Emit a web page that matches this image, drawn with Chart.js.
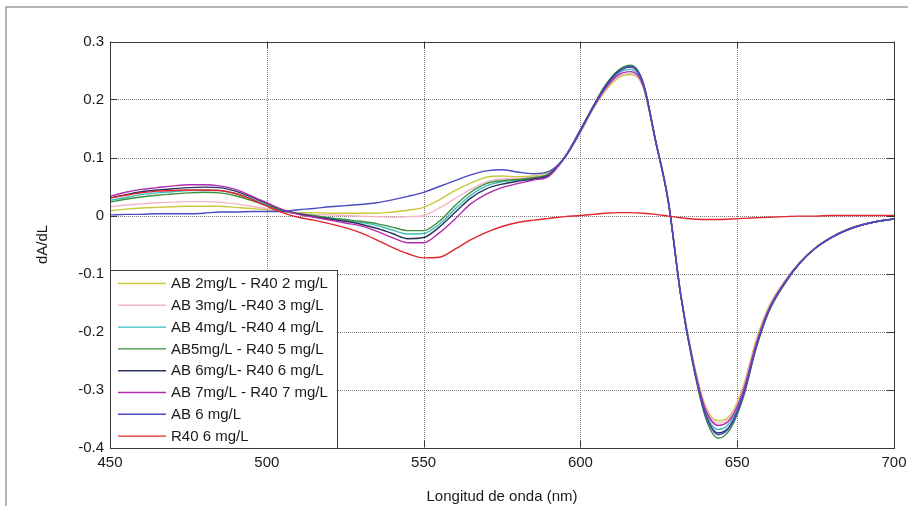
<!DOCTYPE html>
<html>
<head>
<meta charset="utf-8">
<script src="https://cdn.jsdelivr.net/npm/chart.js@4"></script>
<style>
  html, body { margin: 0; padding: 0; background: #ffffff; }
  #wrap { width: 915px; height: 506px; position: relative; }
</style>
</head>
<body>
<div id="wrap"><canvas id="c" width="915" height="506"></canvas></div>
<script>
// ---- data ----
const wavelengths = [450,455,460,465,470,475,480,485,490,495,500,505,510,515,520,525,530,535,540,545,550,555,560,565,570,575,580,585,590,595,600,
  604,608,612,616,620,624,628,632,636,640,644,648,652,656,660,665,670,675,680,685,690,695,700];

const seriesLabels = [
  'AB 2mg/L - R40 2 mg/L',
  'AB 3mg/L -R40 3 mg/L',
  'AB 4mg/L -R40 4 mg/L',
  'AB5mg/L - R40 5 mg/L',
  'AB 6mg/L- R40 6 mg/L',
  'AB 7mg/L - R40 7 mg/L',
  'AB 6 mg/L',
  'R40 6 mg/L'
];
const seriesColors = ['#c9c93a','#f2b6c8','#3cbcbc','#3d8f3d','#29345e','#b02cb0','#4a4ac4','#e0262e'];

const ab2 = [0.008,0.011,0.013,0.014,0.015,0.016,0.016,0.016,0.014,0.012,0.010,0.007,0.005,0.005,0.004,0.004,0.004,0.004,0.006,0.009,0.014,0.027,0.043,0.056,0.066,0.068,0.067,0.068,0.075,0.100,0.143,
  0.183,0.215,0.237,0.243,0.221,0.127,0.028,-0.134,-0.250,-0.330,-0.354,-0.343,-0.293,-0.215,-0.158,-0.114,-0.080,-0.055,-0.037,-0.024,-0.015,-0.010,-0.006];
const ab3 = [0.015,0.018,0.020,0.022,0.023,0.024,0.024,0.023,0.020,0.016,0.012,0.007,0.004,0.002,0.001,0.000,-0.001,-0.002,-0.003,-0.002,0.000,0.013,0.029,0.045,0.058,0.063,0.064,0.066,0.073,0.099,0.143,
  0.184,0.217,0.239,0.245,0.222,0.127,0.027,-0.135,-0.252,-0.333,-0.358,-0.346,-0.297,-0.219,-0.160,-0.115,-0.080,-0.055,-0.037,-0.024,-0.015,-0.010,-0.006];
const ab4 = [0.026,0.031,0.036,0.039,0.041,0.043,0.044,0.043,0.038,0.029,0.019,0.009,0.003,-0.001,-0.004,-0.008,-0.012,-0.017,-0.025,-0.032,-0.031,-0.015,0.011,0.035,0.051,0.058,0.061,0.064,0.071,0.100,0.147,
  0.186,0.221,0.245,0.252,0.226,0.127,0.025,-0.137,-0.256,-0.341,-0.369,-0.355,-0.305,-0.225,-0.163,-0.117,-0.081,-0.056,-0.038,-0.025,-0.016,-0.010,-0.006];
const ab5 = [0.023,0.028,0.032,0.035,0.037,0.039,0.040,0.039,0.034,0.026,0.017,0.008,0.003,0.000,-0.004,-0.007,-0.010,-0.014,-0.020,-0.026,-0.026,-0.010,0.017,0.040,0.055,0.060,0.062,0.065,0.072,0.100,0.146,
  0.188,0.225,0.250,0.259,0.230,0.130,0.026,-0.138,-0.260,-0.350,-0.384,-0.366,-0.313,-0.230,-0.167,-0.119,-0.082,-0.056,-0.038,-0.025,-0.016,-0.010,-0.006];
const ab6r6 = [0.030,0.036,0.041,0.044,0.046,0.048,0.049,0.048,0.042,0.032,0.021,0.010,0.003,-0.002,-0.006,-0.010,-0.015,-0.022,-0.031,-0.040,-0.038,-0.020,0.005,0.030,0.046,0.054,0.059,0.063,0.070,0.101,0.148,
  0.187,0.223,0.248,0.256,0.228,0.128,0.024,-0.138,-0.257,-0.344,-0.375,-0.360,-0.308,-0.227,-0.165,-0.118,-0.082,-0.056,-0.038,-0.025,-0.016,-0.010,-0.006];
const ab7 = [0.033,0.040,0.045,0.048,0.051,0.053,0.053,0.051,0.045,0.034,0.022,0.010,0.002,-0.003,-0.008,-0.013,-0.018,-0.027,-0.038,-0.047,-0.047,-0.030,-0.006,0.020,0.037,0.048,0.055,0.061,0.068,0.100,0.146,
  0.185,0.219,0.242,0.248,0.224,0.127,0.026,-0.136,-0.254,-0.336,-0.362,-0.350,-0.301,-0.222,-0.162,-0.116,-0.081,-0.056,-0.038,-0.025,-0.016,-0.010,-0.006];
const ab6 = [0.001,0.002,0.002,0.003,0.003,0.003,0.004,0.006,0.006,0.007,0.007,0.007,0.010,0.012,0.015,0.017,0.019,0.022,0.027,0.033,0.040,0.050,0.060,0.070,0.077,0.079,0.075,0.072,0.076,0.100,0.145,
  0.186,0.222,0.247,0.257,0.228,0.128,0.025,-0.138,-0.258,-0.345,-0.378,-0.362,-0.310,-0.228,-0.165,-0.118,-0.082,-0.056,-0.038,-0.025,-0.016,-0.010,-0.006];
const r40 = [0.030,0.035,0.039,0.042,0.043,0.044,0.044,0.043,0.038,0.028,0.016,0.005,-0.003,-0.008,-0.014,-0.021,-0.030,-0.042,-0.055,-0.066,-0.073,-0.072,-0.058,-0.042,-0.029,-0.019,-0.012,-0.008,-0.005,-0.002,0.000,
  0.002,0.004,0.005,0.005,0.004,0.002,-0.001,-0.004,-0.006,-0.007,-0.007,-0.006,-0.005,-0.004,-0.003,-0.002,-0.001,-0.001,0.000,0.000,0.000,0.000,0.000];

const seriesValues = [ab2, ab3, ab4, ab5, ab6r6, ab7, ab6, r40];

const xTitle = 'Longitud de onda (nm)';
const yTitle = 'dA/dL';

// ---- layout constants ----
const AREA = { left: 110, top: 41.5, right: 894, bottom: 447.5 };
const FONT = "'Liberation Sans', Arial, Helvetica, sans-serif";

const datasets = seriesValues.map((vals, i) => ({
  label: seriesLabels[i],
  data: wavelengths.map((w, j) => ({ x: w, y: vals[j] })),
  borderColor: seriesColors[i],
  backgroundColor: seriesColors[i],
  borderWidth: 1.4,
  pointRadius: 0,
  fill: false,
  cubicInterpolationMode: 'monotone',
  order: seriesValues.length - i
}));

const framePlugin = {
  id: 'frame',
  beforeDraw(chart) {
    const ctx = chart.ctx;
    ctx.save();
    ctx.fillStyle = '#ffffff';
    ctx.fillRect(0, 0, chart.width, chart.height);
    ctx.strokeStyle = '#9a9a9a';
    ctx.lineWidth = 1.5;
    ctx.beginPath();
    ctx.moveTo(6, 506);
    ctx.lineTo(6, 7);
    ctx.lineTo(908, 7);
    ctx.stroke();
    ctx.restore();
  },
  beforeDatasetsDraw(chart) {
    // dotted grid, pixel-aligned
    const ctx = chart.ctx;
    const a = chart.chartArea;
    const xs = chart.scales.x, ys = chart.scales.y;
    ctx.save();
    ctx.strokeStyle = '#7a7a7a';
    ctx.lineWidth = 1;
    ctx.setLineDash([1, 1]);
    ctx.beginPath();
    xs.ticks.forEach(t => {
      const px = Math.round(xs.getPixelForValue(t.value)) + 0.5;
      if (px <= a.left + 1 || px >= a.right - 1) return;
      ctx.moveTo(px, Math.round(a.top)); ctx.lineTo(px, Math.round(a.bottom));
    });
    ys.ticks.forEach(t => {
      const py = Math.round(ys.getPixelForValue(t.value)) + 0.5;
      if (py <= a.top + 1 || py >= a.bottom - 1) return;
      ctx.moveTo(Math.round(a.left), py); ctx.lineTo(Math.round(a.right), py);
    });
    ctx.stroke();
    ctx.restore();
  },
  afterDatasetsDraw(chart) {
    const ctx = chart.ctx;
    const a = chart.chartArea;
    const xs = chart.scales.x, ys = chart.scales.y;
    ctx.save();
    ctx.strokeStyle = '#333333';
    ctx.lineWidth = 1;
    // inner tick marks
    ctx.beginPath();
    xs.ticks.forEach(t => {
      const px = Math.round(xs.getPixelForValue(t.value)) + 0.5;
      ctx.moveTo(px, a.bottom); ctx.lineTo(px, a.bottom - 7);
      ctx.moveTo(px, a.top); ctx.lineTo(px, a.top + 7);
    });
    ys.ticks.forEach(t => {
      const py = Math.round(ys.getPixelForValue(t.value)) + 0.5;
      ctx.moveTo(a.left, py); ctx.lineTo(a.left + 7, py);
      ctx.moveTo(a.right, py); ctx.lineTo(a.right - 7, py);
    });
    ctx.stroke();
    // box
    ctx.strokeStyle = '#3a3a3a';
    ctx.strokeRect(Math.round(a.left) + 0.5, Math.round(a.top) + 0.5,
                   Math.round(a.right - a.left), Math.round(a.bottom - a.top));

    // legend box
    const lx = Math.round(a.left) + 0.5, ly = 270.5, lw = 227, lh = Math.round(a.bottom) - 270;
    ctx.fillStyle = '#ffffff';
    ctx.fillRect(lx, ly, lw, lh);
    ctx.strokeStyle = '#3a3a3a';
    ctx.strokeRect(lx, ly, lw, lh);
    ctx.font = '15px ' + FONT;
    ctx.textBaseline = 'middle';
    ctx.textAlign = 'left';
    chart.data.datasets.forEach((ds, i) => {
      const y = 283.5 + i * 21.8;
      ctx.strokeStyle = ds.borderColor;
      ctx.lineWidth = 1.4;
      ctx.beginPath();
      ctx.moveTo(118, y); ctx.lineTo(166, y);
      ctx.stroke();
      ctx.fillStyle = '#1a1a1a';
      ctx.fillText(ds.label, 171, y + 0.5);
    });
    ctx.restore();
  }
};

new Chart(document.getElementById('c'), {
  type: 'line',
  data: { datasets },
  options: {
    responsive: false,
    animation: false,
    devicePixelRatio: 1,
    layout: { padding: { left: 0, top: AREA.top, right: 915 - AREA.right, bottom: 0 } },
    plugins: { legend: { display: false }, tooltip: { enabled: false } },
    scales: {
      x: {
        type: 'linear',
        min: 450, max: 700,
        afterFit(s) { s.height = 506 - AREA.bottom; },
        ticks: { stepSize: 50, color: '#1a1a1a', padding: 6, maxRotation: 0,
                 font: { family: FONT, size: 15 } },
        grid: { display: false, drawTicks: false },
        border: { display: false },
        title: { display: true, text: xTitle, color: '#1a1a1a', padding: { top: 17, bottom: 0 },
                 font: { family: FONT, size: 15 } }
      },
      y: {
        type: 'linear',
        min: -0.4, max: 0.3,
        afterFit(s) { s.width = AREA.left; },
        ticks: { stepSize: 0.1, color: '#1a1a1a', padding: 6,
                 font: { family: FONT, size: 15 },
                 callback: v => Math.abs(v) < 1e-9 ? '0' : Number(v).toFixed(1) },
        grid: { display: false, drawTicks: false },
        border: { display: false },
        title: { display: true, text: yTitle, color: '#1a1a1a', padding: { top: 34, bottom: 0 },
                 font: { family: FONT, size: 15 } }
      }
    }
  },
  plugins: [framePlugin]
});
</script>
</body>
</html>
